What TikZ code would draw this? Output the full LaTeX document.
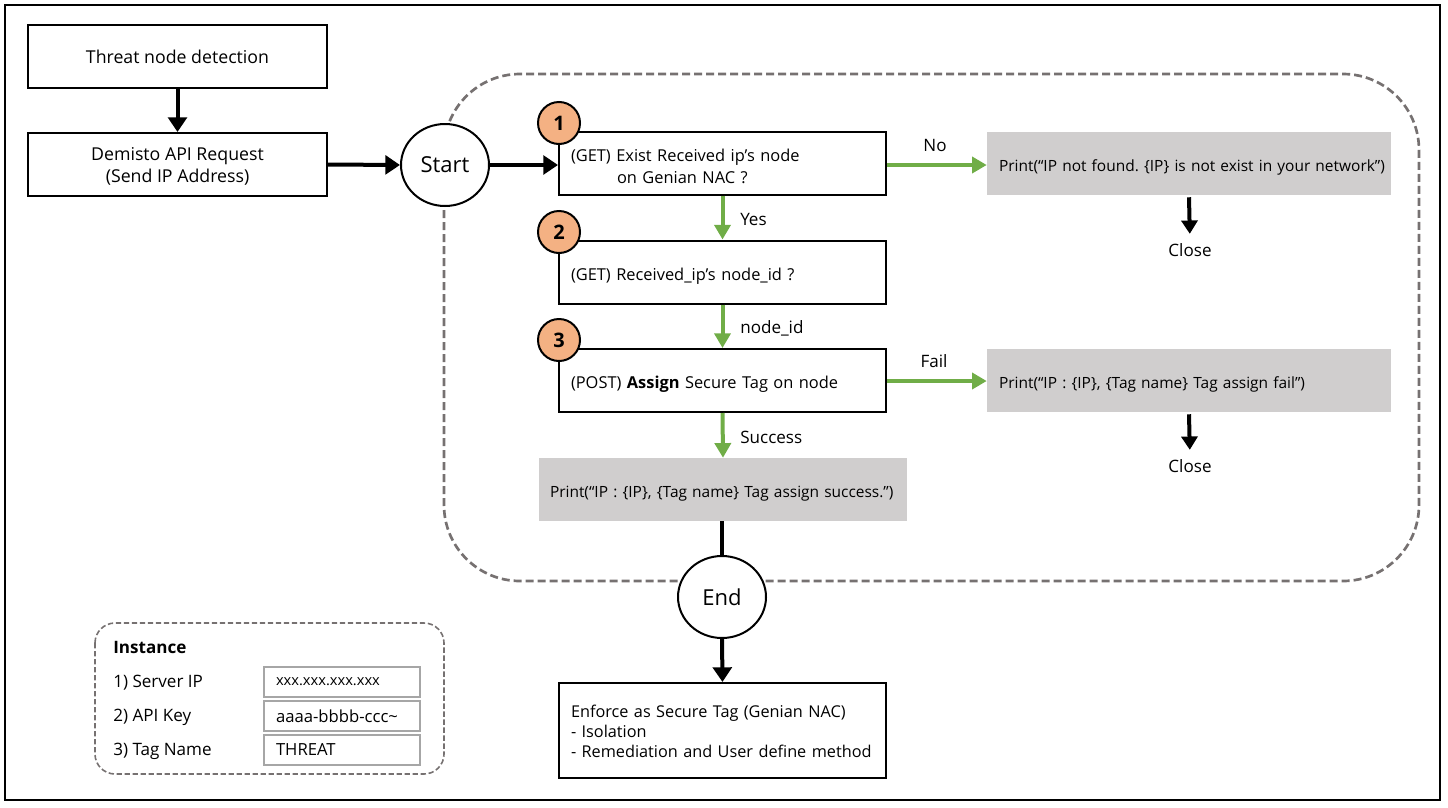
\documentclass[tikz,border=0pt]{standalone}
\usepackage{fontspec}
\setmainfont{Open Sans}
\usetikzlibrary{arrows.meta,shapes.geometric}
\definecolor{grn}{HTML}{70AD47}
\definecolor{orng}{HTML}{F4B183}
\definecolor{gbox}{HTML}{D0CECE}
\definecolor{dgray}{HTML}{767171}
\definecolor{vgray}{HTML}{A6A6A6}
\newdimen\upx \upx=0.75pt
\frenchspacing
\hbadness=10000 \hfuzz=100pt
\begin{document}
\begin{tikzpicture}[x=0.75pt,y=-0.75pt,
  box/.style={draw, line width=1.5pt, inner sep=0pt, minimum height=63\upx, font=\fontsize{12.3}{16.5}\selectfont},
  lbox/.style={box, text width=303\upx, align=left, inner xsep=12\upx, minimum width=327\upx, text height=13pt, text depth=1pt},
  gbx/.style={fill=gbox, inner sep=0pt, minimum height=63\upx, font=\fontsize{11.6}{14}\selectfont, text height=13pt, text depth=1pt},
  num/.style={circle, draw, line width=1.5pt, fill=orng, minimum size=42\upx, inner sep=0pt, font=\fontsize{15}{15}\selectfont\bfseries},
  term/.style={ellipse, draw, line width=1.5pt, fill=white, minimum width=88\upx, minimum height=82\upx, inner sep=0pt, font=\fontsize{16.5}{16}\selectfont},
  lbl/.style={font=\fontsize{12.8}{15}\selectfont, inner sep=0pt},
  barrow/.style={line width=3pt, -{Triangle[length=11pt,width=14pt]}},
  garrow/.style={grn, line width=3pt, -{Triangle[length=11pt,width=12pt]}},
  varrow/.style={line width=3pt, -{Triangle[length=10pt,width=12pt]}},
  vbox/.style={draw=vgray, line width=1.5pt, minimum width=156\upx, minimum height=30\upx, inner sep=0pt, text width=132\upx, align=left, font=\fontsize{12.5}{13}\selectfont},
]
\useasboundingbox (0,0) rectangle (1448,807);
\draw[line width=1.5pt] (5,5) rectangle (1440,800);

% dashed regions
\draw[dgray, line width=2pt, dash pattern=on 6pt off 3pt, rounded corners=57pt] (444,74) rectangle (1419,581);
\draw[dgray, line width=1.2pt, dash pattern=on 4pt off 2pt, rounded corners=15pt] (95,623) rectangle (444,774);

% left boxes
\node[box, minimum width=299\upx, align=center, font=\fontsize{13.3}{17}\selectfont] (thr) at (177.5,56.5) {Threat node detection};
\node[box, minimum width=299\upx, align=center, font=\fontsize{13.3}{16.5}\selectfont, text height=27pt, text depth=0.75pt] (dem) at (177.5,164.5) {Demisto API Request\\(Send IP Address)};
\node[term] (start) at (445,165) {Start};

% main boxes
\node[lbox, text height=6pt, text depth=9pt] (b1) at (722.5,163) {(GET) Exist Received ip’s node\\\hspace*{34.5pt}on Genian NAC ?};
\node[lbox] (b2) at (722.5,272) {(GET) Received\_ip’s node\_id ?};
\node[lbox] (b3) at (722.5,380.5) {(POST) \textbf{Assign} Secure Tag on node};
\node[num] (n1) at (559,123) {1};
\node[num] (n2) at (559,232) {2};
\node[num] (n3) at (559,340) {3};

\node[gbx, minimum width=368\upx, text width=346\upx, align=left] (succ) at (723,489.5) {\mbox{Print(“IP : \{IP\}, \{Tag name\} Tag assign success.”)}};
\node[term] (end) at (722,597) {End};
\node[box, minimum width=327\upx, minimum height=95\upx, text width=303\upx, align=left, inner xsep=12\upx, font=\fontsize{12.2}{15}\selectfont, text height=1pt, text depth=21.25pt] (enf) at (722.5,730.5) {Enforce as Secure Tag (Genian NAC)\\- Isolation\\- Remediation and User define method};

\node[gbx, minimum width=404\upx, text width=380\upx, align=left] (nof) at (1189,163.5) {\mbox{Print(“IP not found. \{IP\} is not exist in your network”)}};
\node[gbx, minimum width=404\upx, text width=380\upx, align=left] (fail) at (1189,380.5) {\mbox{Print(“IP : \{IP\}, \{Tag name\} Tag assign fail”)}};
\node[lbl] (c1) at (1190,250) {Close};
\node[lbl] (c2) at (1190,466) {Close};

% labels
\node[lbl, anchor=west] at (740,219) {Yes};
\node[lbl, anchor=west] at (740,328) {node\_id};
\node[lbl, anchor=west] at (740,437) {Success};
\node[lbl] at (935,145) {No};
\node[lbl] at (934,361) {Fail};

% connectors
\draw[barrow] (thr.south) -- (dem.north);
\draw[barrow] (dem.east) -- (start.west);
\draw[barrow] (start.east) -- (start.east -| b1.west);
\draw[garrow] (b1.south) -- (b2.north);
\draw[garrow] (b2.south) -- (b3.north);
\draw[garrow] (b3.south) -- (succ.north);
\draw[line width=3pt] (succ.south -| end.north) -- (end.north);
\draw[barrow] (end.south) -- (enf.north);
\draw[garrow] (b1.east |- 0,165) -- (nof.west |- 0,165);
\draw[garrow] (b3.east |- 0,381) -- (fail.west |- 0,381);
\draw[varrow, shorten >=7pt] (nof.south) ++(0,2) -- (c1.north);
\draw[varrow, shorten >=7pt] (fail.south) ++(0,2) -- (c2.north);

% instance
\node[font=\fontsize{12.8}{15}\selectfont\bfseries, anchor=west, inner sep=0pt] (inst) at (113,647) {Instance};
\node[lbl, anchor=west] (l1) at (113,683) {1) Server IP};
\node[lbl, anchor=west] (l2) at (113,717) {2) API Key};
\node[lbl, anchor=west] (l3) at (113,751) {3) Tag Name};
\node[vbox, font=\fontsize{11}{12}\selectfont] (v1) at (342,682) {xxx.xxx.xxx.xxx};
\node[vbox] (v2) at (342,716) {aaaa-bbbb-ccc\textasciitilde};
\node[vbox] (v3) at (342,750) {THREAT};
\end{tikzpicture}
\end{document}
